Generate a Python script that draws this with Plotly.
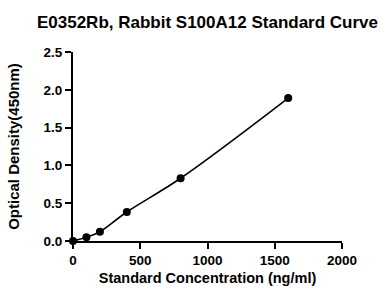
import plotly.graph_objects as go

concentration = [0, 100, 200, 400, 800, 1600]
od450 = [0.0, 0.049, 0.123, 0.384, 0.83, 1.89]
x_ticks = [0, 500, 1000, 1500, 2000]
y_ticks = [0.0, 0.5, 1.0, 1.5, 2.0, 2.5]
y_tick_labels = ["0.0", "0.5", "1.0", "1.5", "2.0", "2.5"]

fig = go.Figure()
fig.add_trace(go.Scatter(
    x=concentration, y=od450, mode="lines+markers",
    line=dict(color="black", width=1.6, shape="spline", smoothing=1.0),
    marker=dict(color="black", size=8),
    cliponaxis=False, showlegend=False,
))

font = "Liberation Sans, Arial, sans-serif"
fig.update_layout(
    width=382, height=289,
    margin=dict(l=73, r=40, t=52, b=48),
    paper_bgcolor="white", plot_bgcolor="white",
    title=dict(text="<b>E0352Rb, Rabbit S100A12 Standard Curve</b>",
               x=0.5, xref="paper", xanchor="center", y=1 - 22 / 289, yanchor="middle",
               font=dict(family=font, size=17, color="black")),
    xaxis=dict(range=[0, 2000], tickvals=x_ticks, ticktext=[f"<b>{v}</b>" for v in x_ticks],
               showline=True, linecolor="black", linewidth=2, ticks="outside",
               ticklen=6, tickwidth=2, tickcolor="black", showgrid=False, zeroline=False,
               automargin=False,
               tickfont=dict(family=font, size=13.5, color="black"),
               title=dict(text="<b>Standard Concentration (ng/ml)</b>", standoff=6,
                          font=dict(family=font, size=14.5, color="black"))),
    yaxis=dict(range=[0, 2.5], tickvals=y_ticks, ticktext=[f"<b>{v}</b>" for v in y_tick_labels],
               showline=True, linecolor="black", linewidth=2, ticks="outside",
               ticklen=6, tickwidth=2, tickcolor="black", showgrid=False, zeroline=False,
               automargin=False,
               tickfont=dict(family=font, size=13.5, color="black"),
               title=dict(text="<b>Optical Density(450nm)</b>", standoff=20,
                          font=dict(family=font, size=15, color="black"))),
)
fig.write_html("out.html", config={"displayModeBar": False},
               post_script="document.body.style.margin='0';document.body.style.padding='0';")
